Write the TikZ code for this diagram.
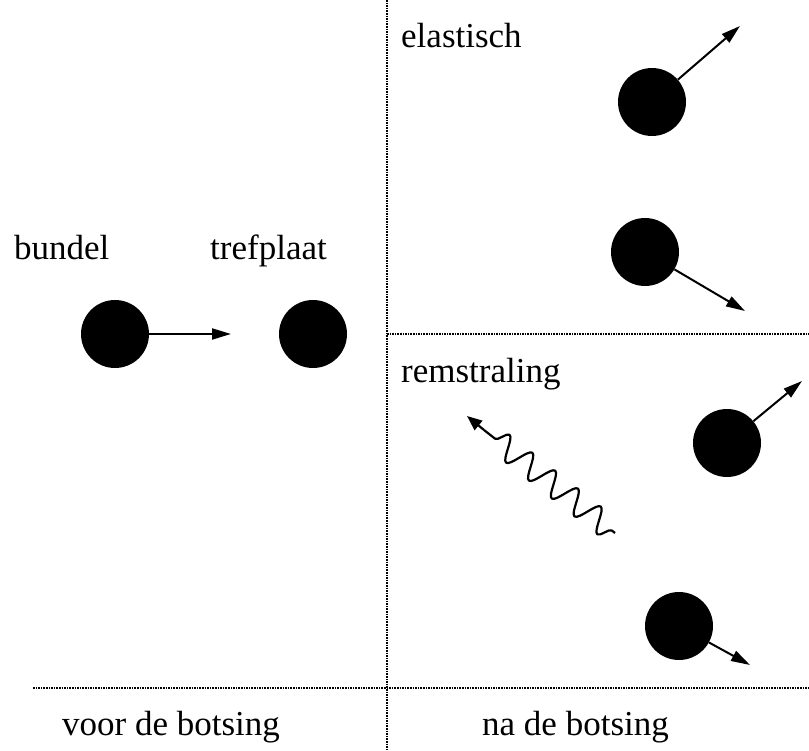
\documentclass[tikz,border=0pt]{standalone}
\usepackage{fontspec}
\setmainfont{Liberation Serif}
\usetikzlibrary{arrows.meta,decorations.pathmorphing}
\begin{document}
\begin{tikzpicture}[x=1pt,y=-1pt,
  ball/.style={circle,fill=black,minimum size=68pt,inner sep=0pt},
  lbl/.style={anchor=base west,inner sep=0pt,font=\fontsize{35}{42}\selectfont},
  vec/.style={line width=2pt,-{Triangle[length=19pt,width=11pt]}},
  sep/.style={line width=1.5pt,dash pattern=on 1.6pt off 1pt}]
\useasboundingbox (0,0) rectangle (809,751);
% separators
\coordinate (vtop) at (387,0);
\coordinate (vbot) at (387,751);
\coordinate (hml) at (387,334);
\coordinate (hmr) at (809,334);
\coordinate (hbl) at (33,688);
\coordinate (hbr) at (809,688);
\draw[sep] (vtop) -- (vbot);
\draw[sep] (hml) -- (hmr);
\draw[sep] (hbl) -- (hbr);
% labels
\node[lbl] (tb) at (14,260) {bundel};
\node[lbl] (tt) at (210,260) {trefplaat};
\node[lbl] (te) at (401,48) {elastisch};
\node[lbl] (tr) at (401,382) {remstraling};
\node[lbl] (tv) at (62,735) {voor de botsing};
\node[lbl] (tn) at (482,735) {na de botsing};
% before
\node[ball] (b1) at (115,334) {};
\node[ball] (b2) at (313,334) {};
\coordinate (a1) at (231,334);
\draw[vec] (b1.east) -- (a1);
% elastic
\node[ball] (e1) at (652,102) {};
\node[ball] (e2) at (645,252) {};
\coordinate (ea1) at (740,26);
\coordinate (ea2) at (745,311);
\draw[vec] (e1) -- (ea1);
\draw[vec] (e2) -- (ea2);
% bremsstrahlung
\node[ball] (r1) at (727,443) {};
\node[ball] (r2) at (679,626) {};
\coordinate (ra1) at (802,381);
\coordinate (ra2) at (750,665);
\draw[vec] (r1) -- (ra1);
\draw[vec] (r2) -- (ra2);
\coordinate (ws) at (615,533);
\coordinate (wm) at (484,430);
\coordinate (we) at (467,416);
\draw[line width=2.2pt,line join=round,decorate,
  decoration={snake,amplitude=12pt,segment length=29pt,pre length=4pt,post length=4pt}]
  (ws) -- (wm);
\draw[line width=2.2pt,-{Triangle[length=15pt,width=12pt]}] (wm) -- (we);
\end{tikzpicture}
\end{document}
